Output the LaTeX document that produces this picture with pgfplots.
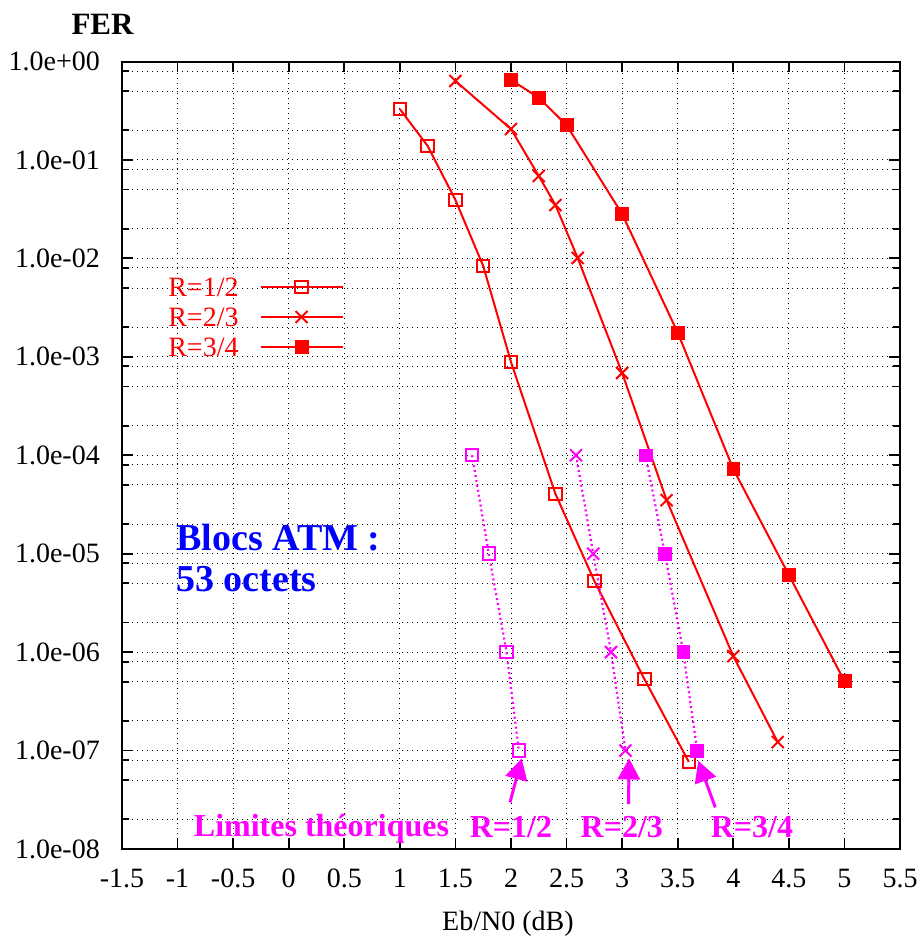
\documentclass[border=0pt]{standalone}
\usepackage{fontspec}
\setmainfont{Liberation Serif}
\usepackage{pgfplots}
\pgfplotsset{compat=1.18}
\usetikzlibrary{arrows.meta}
\definecolor{mag}{RGB}{255,0,255}
\definecolor{rd}{RGB}{255,0,0}
\definecolor{bl}{RGB}{0,0,255}

\begin{document}
\begin{tikzpicture}
\path[use as bounding box] (-122bp,-88bp) rectangle (796bp,849bp);
\begin{axis}[
  at={(0,0)}, anchor=south west,
  scale only axis, width=778bp, height=787.5bp,
  clip=false,
  xmin=-1.5, xmax=5.5, ymin=1e-8, ymax=1, ymode=log,
  xtick={-1.5,-1,-0.5,0,0.5,1,1.5,2,2.5,3,3.5,4,4.5,5,5.5},
  xticklabels={-1.5,-1,-0.5,0,0.5,1,1.5,2,2.5,3,3.5,4,4.5,5,5.5},
  ytick={1e-8,1e-7,1e-6,1e-5,1e-4,1e-3,1e-2,1e-1,1},
  yticklabels={1.0e-08,1.0e-07,1.0e-06,1.0e-05,1.0e-04,1.0e-03,1.0e-02,1.0e-01,1.0e+00},
  minor ytick={2e-8,5e-8,8e-8,2e-7,5e-7,8e-7,2e-6,5e-6,8e-6,2e-5,5e-5,8e-5,2e-4,5e-4,8e-4,2e-3,5e-3,8e-3,2e-2,5e-2,8e-2,2e-1,5e-1,8e-1},
  xmajorgrids, ymajorgrids, yminorgrids,
  major grid style={black, line width=0.9bp, dash pattern=on 1.2bp off 3.8bp},
  minor grid style={black, line width=0.9bp, dash pattern=on 1.2bp off 3.8bp},
  axis line style={line width=2bp, black},
  every tick/.append style={line width=1.8bp, black},
  tick align=inside,
  major tick length=11bp, minor tick length=7bp,
  tick label style={font=\fontsize{28bp}{30bp}\selectfont, inner sep=0pt},
  yticklabel style={anchor=east, xshift=-22bp},
  xticklabel style={anchor=north, yshift=-20bp},
  xlabel={Eb/N0 (dB)},
  xlabel style={at={(axis description cs:0.496,0)}, anchor=base, yshift=-81bp, inner sep=0pt, font=\fontsize{28bp}{30bp}\selectfont},
  legend style={at={(axis description cs:0.0595,0.7327)}, anchor=north west,
    draw=none, fill=none, inner sep=0pt, outer sep=0pt,
    column sep=21bp, row sep=0pt,
    font=\fontsize{28bp}{30bp}\selectfont,
    nodes={inner sep=0pt, text=rd, text height=24bp, text depth=6bp}},
  legend plot pos=right,
  legend image code/.code={\draw[mark repeat=2,mark phase=2,#1] plot coordinates {(0bp,0bp) (41bp,0bp) (82bp,0bp)};},
]
\addplot[rd, line width=2bp, mark=square, mark size=6.2bp, mark options={solid, line width=2bp}]
 coordinates {(1.0,0.329) (1.25,0.1386) (1.5,0.0392) (1.75,0.00837) (2.0,8.86e-4) (2.4,4.05e-5) (2.75,5.28e-6) (3.2,5.33e-7) (3.6,7.66e-8)};
\addlegendentry{R=1/2}
\addplot[rd, line width=2bp, mark=x, mark size=8.5bp, mark options={solid, line width=2bp}]
 coordinates {(1.5,0.634) (2.0,0.206) (2.25,0.0687) (2.4,0.0348) (2.6,0.0101) (3.0,6.85e-4) (3.4,3.5e-5) (4.0,9.1e-7) (4.4,1.22e-7)};
\addlegendentry{R=2/3}
\addplot[rd, line width=2bp, mark=square*, mark size=6.4bp, mark options={solid, line width=0.6bp}]
 coordinates {(2.0,0.649) (2.25,0.429) (2.5,0.226) (3.0,0.0282) (3.5,0.00176) (4.0,7.24e-5) (4.5,6.08e-6) (5.0,5.09e-7)};
\addlegendentry{R=3/4}

\addplot[mag, line width=2.2bp, dash pattern=on 2bp off 3bp, mark=square, mark size=6.2bp, mark options={solid, line width=2bp}, forget plot]
 coordinates {(1.65,1e-4) (1.80,1e-5) (1.96,1e-6) (2.07,1e-7)};
\addplot[mag, line width=2.2bp, dash pattern=on 2bp off 3bp, mark=x, mark size=8.5bp, mark options={solid, line width=2bp}, forget plot]
 coordinates {(2.585,1e-4) (2.74,1e-5) (2.90,1e-6) (3.03,1e-7)};
\addplot[mag, line width=2.2bp, dash pattern=on 2bp off 3bp, mark=square*, mark size=6.4bp, mark options={solid, line width=0.6bp}, forget plot]
 coordinates {(3.21,1e-4) (3.385,1e-5) (3.55,1e-6) (3.675,1e-7)};

\node[anchor=base, font=\bfseries\fontsize{31bp}{34bp}\selectfont] at (axis description cs:-0.02506,1.0337) {FER};

\node[anchor=base west, text=bl, font=\bfseries\fontsize{38bp}{40bp}\selectfont, inner sep=0pt] at (axis cs:-1.012,1.09e-5) {Blocs ATM :};
\node[anchor=base west, text=bl, font=\bfseries\fontsize{38bp}{40bp}\selectfont, inner sep=0pt] at (axis cs:-1.012,4.11e-6) {53 octets};

\node[anchor=base, text=mag, font=\bfseries\fontsize{32bp}{36bp}\selectfont, inner sep=0pt] at (axis cs:0.2946,1.334e-8) {Limites théoriques};
\node[anchor=base, text=mag, font=\bfseries\fontsize{32bp}{34bp}\selectfont, inner sep=0pt] at (axis cs:2.0,1.294e-8) {R=1/2};
\node[anchor=base, text=mag, font=\bfseries\fontsize{32bp}{34bp}\selectfont, inner sep=0pt] at (axis cs:2.997,1.294e-8) {R=2/3};
\node[anchor=base, text=mag, font=\bfseries\fontsize{32bp}{34bp}\selectfont, inner sep=0pt] at (axis cs:4.168,1.294e-8) {R=3/4};

\draw[mag, line width=3bp, -{Triangle[length=21bp,width=22bp]}] (axis cs:1.991,2.97e-8) -- (axis cs:2.096,8.32e-8);
\draw[mag, line width=3bp, -{Triangle[length=21bp,width=22bp]}] (axis cs:3.057,2.86e-8) -- (axis cs:3.063,8.32e-8);
\draw[mag, line width=3bp, -{Triangle[length=21bp,width=22bp]}] (axis cs:3.838,2.65e-8) -- (axis cs:3.685,7.87e-8);
\end{axis}
\end{tikzpicture}
\end{document}
